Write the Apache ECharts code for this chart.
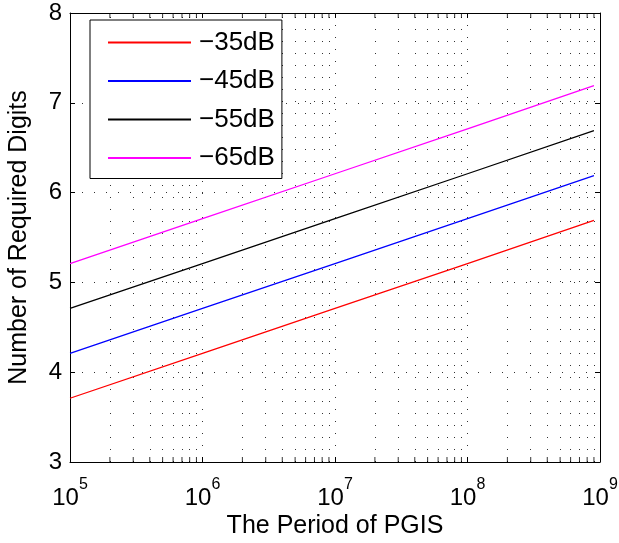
<!DOCTYPE html>
<html>
<head>
<meta charset="utf-8">
<script src="https://cdn.jsdelivr.net/npm/echarts@6/dist/echarts.min.js"></script>
<style>html,body{margin:0;padding:0;background:#fff;}#c{width:619px;height:543px;}</style>
</head>
<body>
<div id="c"></div>
<script>
const periods = [1e5, 1e6, 1e7, 1e8, 9e8];
const seriesNames = ['\u221235dB', '\u221245dB', '\u221255dB', '\u221265dB'];
const digits35 = [3.71, 4.21, 4.71, 5.21, 5.69];
const digits45 = [4.21, 4.71, 5.21, 5.71, 6.19];
const digits55 = [4.71, 5.21, 5.71, 6.21, 6.69];
const digits65 = [5.21, 5.71, 6.21, 6.71, 7.19];
const xMin = 1e5, xMax = 1e9;
const yMin = 3, yMax = 8;
const minorX = [];
for (let d = 5; d < 9; d++) for (let m = 2; m <= 9; m++) minorX.push(m * Math.pow(10, d));

const colors = ['#ff0000', '#0000ff', '#000000', '#ff00ff'];
const allDigits = [digits35, digits45, digits55, digits65];
const FONT = 'Liberation Sans, Arial, Helvetica, sans-serif';
const dotted = { type: [1, 11], color: '#333', width: 1 };

const lineSeries = allDigits.map((arr, i) => ({
  name: seriesNames[i], type: 'line', symbol: 'none', z: 5,
  lineStyle: { color: colors[i], width: 1.3 }, itemStyle: { color: colors[i] },
  data: periods.map((p, j) => [p, arr[j]]),
  markLine: i === 0 ? {
    silent: true, symbol: 'none', label: { show: false }, z: 1,
    lineStyle: dotted,
    data: minorX.map(v => ({ xAxis: v }))
  } : undefined
}));

const tickData = [];
minorX.forEach(v => {
  tickData.push({ value: [v, yMin], symbolOffset: [0, -2.5] });
  tickData.push({ value: [v, yMax], symbolOffset: [0, 2.5] });
});

const chart = echarts.init(document.getElementById('c'));
chart.setOption({
  animation: false,
  textStyle: { fontFamily: FONT },
  grid: { left: 70, right: 19, top: 13, bottom: 81, show: false, containLabel: false, outerBoundsMode: 'none' },
  legend: {
    data: seriesNames, orient: 'vertical', left: 90, top: 20,
    itemWidth: 83, itemHeight: 20, itemGap: 12.5,
    padding: [9.5, 7, 7.5, 17],
    borderColor: '#000', borderWidth: 1, backgroundColor: '#fff',
    itemStyle: { color: 'transparent', borderColor: 'transparent', borderWidth: 0 },
    textStyle: { fontSize: 26, color: '#000', fontFamily: FONT, padding: [0, 0, 0, 3] }
  },
  xAxis: [{
    type: 'log', logBase: 10, min: xMin, max: xMax,
    name: 'The Period of PGIS', nameLocation: 'middle', nameGap: 52, nameMoveOverlap: false,
    nameTextStyle: { fontSize: 25, color: '#000', fontFamily: FONT },
    axisLine: { lineStyle: { color: '#000', width: 1 } },
    axisTick: { inside: true, length: 5, lineStyle: { color: '#000' } },
    axisLabel: {
      margin: 15, color: '#000',
      formatter: v => '{b|10}{e|' + Math.round(Math.log10(v)) + '}',
      rich: {
        b: { fontSize: 24, verticalAlign: 'bottom', fontFamily: FONT, color: '#000' },
        e: { fontSize: 16, padding: [0, 0, 17, 0], verticalAlign: 'top', fontFamily: FONT, color: '#000' }
      }
    },
    splitLine: { show: true, lineStyle: dotted }
  }, {
    type: 'log', logBase: 10, min: xMin, max: xMax, position: 'top',
    axisLine: { lineStyle: { color: '#000', width: 1 } },
    axisTick: { inside: true, length: 5, lineStyle: { color: '#000' } },
    axisLabel: { show: false }, splitLine: { show: false }
  }],
  yAxis: [{
    type: 'value', min: yMin, max: yMax, interval: 1,
    name: 'Number of Required Digits', nameLocation: 'middle', nameGap: 38,
    nameTextStyle: { fontSize: 25, color: '#000', fontFamily: FONT },
    axisLine: { show: true, lineStyle: { color: '#000', width: 1 } },
    axisTick: { show: true, inside: true, length: 5, lineStyle: { color: '#000' } },
    axisLabel: { fontSize: 24, color: '#000', margin: 8, fontFamily: FONT },
    splitLine: { show: true, lineStyle: dotted }
  }, {
    type: 'value', min: yMin, max: yMax, interval: 1, position: 'right',
    axisLine: { show: true, lineStyle: { color: '#000', width: 1 } },
    axisTick: { show: true, inside: true, length: 5, lineStyle: { color: '#000' } },
    axisLabel: { show: false }, splitLine: { show: false }
  }],
  series: lineSeries.concat([{
    type: 'scatter', silent: true, symbol: 'rect', symbolSize: [1, 5], z: 6,
    itemStyle: { color: '#000' }, data: tickData, clip: false
  }])
});
</script>
</body>
</html>
